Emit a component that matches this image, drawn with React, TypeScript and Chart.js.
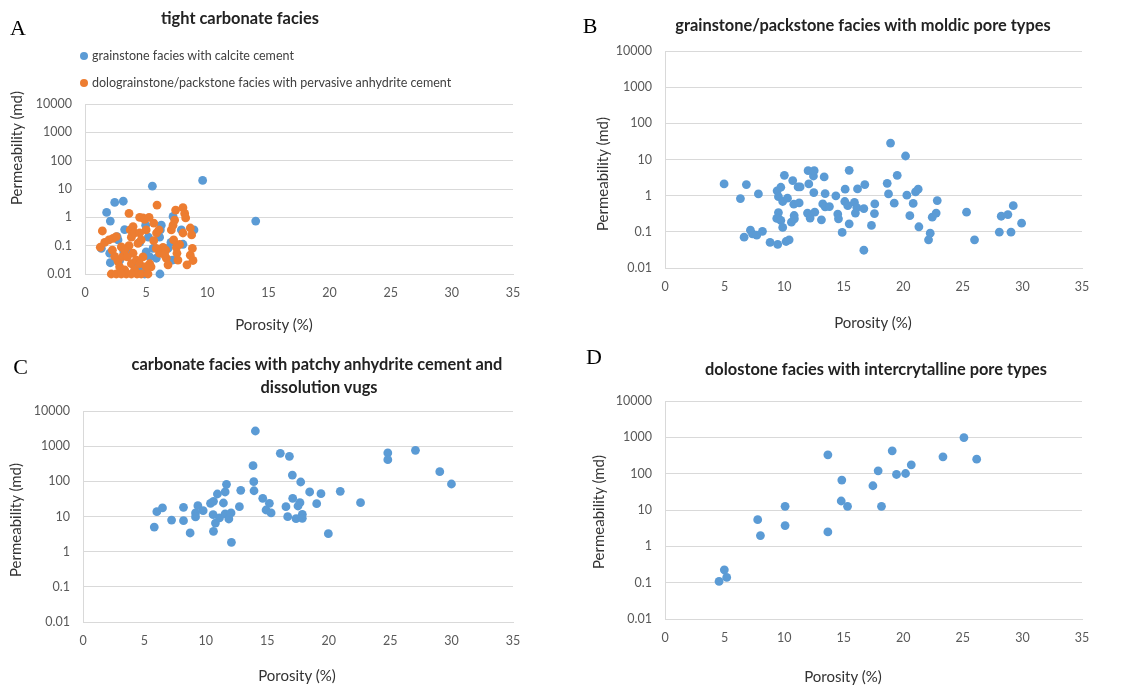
import React, { useEffect, useRef } from "react";
import { Chart, registerables } from "chart.js";

Chart.register(...registerables);

// ---------- shared axis definitions ----------
const yTickValues = [0.01, 0.1, 1, 10, 100, 1000, 10000];
const yTickLabels = ["0.01", "0.1", "1", "10", "100", "1000", "10000"];
const xMin = 0;
const xMax = 35;
const xStep = 5;

const xAxisTitle = "Porosity (%)";
const yAxisTitle = "Permeability (md)";

// ---------- panel A ----------
const aTitle = "tight carbonate facies";
const aCalciteLabel = "grainstone facies with calcite cement";
const aCalcitePorosity = [1.34, 1.77, 2.07, 2.43, 3.13, 2.07, 2.02, 2.7, 2.62, 3.24, 3.16, 3.65, 4.88, 4.96, 5.18, 5.51, 6.24, 6.16, 6.13, 5.56, 5.83, 5.29, 7.2, 7.03, 7.14, 8.01, 8.91, 9.62, 13.96, 7.88, 6.79, 4.47, 3.93, 5.0, 6.1, 2.83, 4.47];
const aCalcitePerm = [0.08, 1.49, 0.74, 3.35, 3.7, 0.025, 0.054, 0.16, 0.21, 0.37, 0.065, 0.054, 0.01, 0.53, 0.2, 12.6, 0.53, 0.36, 0.01, 0.08, 0.036, 0.04, 1.08, 0.13, 0.031, 0.112, 0.36, 20, 0.74, 0.36, 0.08, 0.018, 0.023, 0.06, 0.2, 0.03, 0.13];

const aAnhydriteLabel = "dolograinstone/packstone facies with pervasive anhydrite cement";
const aAnhydritePorosity = [1.42, 1.25, 1.61, 1.96, 2.29, 2.56, 2.24, 2.43, 2.15, 2.56, 2.83, 2.7, 3.1, 3.24, 3.38, 3.6, 3.7, 3.6, 3.79, 3.93, 4.06, 3.93, 3.79, 4.06, 4.2, 4.25, 4.47, 4.74, 4.88, 4.6, 4.74, 4.47, 4.6, 5.0, 5.29, 5.4, 5.62, 5.62, 5.24, 5.89, 6.05, 5.85, 6.1, 6.38, 6.6, 6.65, 6.79, 6.51, 7.06, 7.2, 7.33, 7.41, 7.25, 7.47, 7.52, 7.6, 7.74, 8.01, 8.01, 8.15, 8.23, 8.34, 8.61, 8.78, 8.72, 8.61, 8.83, 2.97, 3.24, 3.46, 4.47, 4.33, 5.0, 5.15, 3.79, 2.97, 5.83];
const aAnhydritePerm = [0.33, 0.088, 0.13, 0.16, 0.18, 0.21, 0.069, 0.042, 0.01, 0.01, 0.018, 0.028, 0.042, 0.014, 0.01, 1.37, 0.36, 0.1, 0.2, 0.47, 0.28, 0.054, 0.023, 0.014, 0.031, 0.01, 1.0, 0.95, 0.85, 0.16, 0.04, 0.023, 0.01, 0.36, 0.023, 0.018, 0.15, 0.62, 1.0, 2.7, 0.36, 0.28, 0.054, 0.087, 0.07, 0.036, 0.021, 0.047, 0.36, 0.53, 0.8, 1.8, 0.16, 0.087, 0.054, 0.031, 0.11, 0.28, 2.2, 1.37, 0.95, 0.021, 0.046, 0.08, 0.24, 0.42, 0.03, 0.09, 0.069, 0.04, 0.28, 0.12, 0.018, 0.01, 0.01, 0.01, 0.08];

// ---------- panel B ----------
const bTitle = "grainstone/packstone facies with moldic pore types";
const bPorosity = [4.96, 6.33, 6.64, 6.83, 7.17, 7.34, 7.7, 7.84, 8.18, 8.82, 9.46, 9.41, 9.52, 9.72, 9.52, 9.49, 9.38, 9.72, 9.88, 9.88, 10.02, 10.28, 10.16, 10.42, 10.61, 10.72, 10.81, 10.84, 10.86, 11.17, 11.34, 11.26, 11.96, 12.01, 12.07, 12.18, 12.46, 12.52, 12.49, 12.57, 13.13, 13.36, 13.24, 13.44, 13.44, 13.8, 14.34, 14.5, 14.56, 14.87, 15.12, 15.09, 15.46, 15.34, 15.46, 15.9, 15.98, 16.16, 16.1, 16.69, 16.77, 16.69, 17.33, 17.58, 17.61, 18.65, 18.76, 18.93, 19.24, 19.49, 20.19, 20.3, 20.55, 20.83, 21.03, 21.25, 21.31, 22.26, 22.12, 22.43, 22.76, 22.85, 25.31, 25.98, 28.06, 28.22, 28.78, 29.04, 29.23, 29.93];
const bPerm = [2.11, 0.83, 0.071, 2.02, 0.111, 0.088, 0.081, 1.12, 0.103, 0.051, 0.045, 1.36, 0.94, 1.71, 0.34, 0.24, 0.235, 0.206, 0.132, 0.69, 3.66, 0.85, 0.054, 0.06, 0.185, 2.61, 0.58, 0.283, 0.229, 1.75, 1.75, 0.63, 0.33, 4.92, 2.11, 0.24, 3.5, 4.92, 1.22, 0.35, 0.215, 3.29, 0.59, 1.14, 0.49, 0.5, 0.99, 0.31, 0.229, 0.096, 1.51, 0.69, 5.02, 0.53, 0.167, 0.65, 0.33, 1.54, 0.47, 0.44, 2.02, 0.031, 0.15, 0.32, 0.59, 2.2, 1.12, 28.5, 0.62, 3.66, 12.5, 1.03, 0.28, 0.61, 1.27, 1.51, 0.138, 0.092, 0.06, 0.255, 0.33, 0.73, 0.35, 0.06, 0.098, 0.27, 0.3, 0.098, 0.53, 0.174];

// ---------- panel C ----------
const cTitleLine1 = "carbonate facies with patchy anhydrite cement and";
const cTitleLine2 = "dissolution vugs";
const cPorosity = [5.8, 6.01, 6.47, 7.21, 8.18, 8.18, 8.72, 9.16, 9.16, 9.35, 9.78, 10.38, 10.62, 10.59, 10.62, 10.78, 10.94, 11.11, 11.43, 11.57, 11.68, 11.57, 11.87, 12.05, 12.08, 12.73, 12.84, 14.03, 13.84, 13.9, 13.92, 14.63, 14.9, 15.17, 15.31, 16.06, 16.52, 16.66, 16.8, 17.04, 17.07, 17.34, 17.5, 17.66, 17.72, 17.85, 17.85, 18.45, 19.02, 19.37, 19.97, 20.94, 22.59, 24.81, 24.81, 27.06, 29.04, 29.99];
const cPerm = [5.0, 13.7, 17.5, 7.9, 18.2, 7.6, 3.4, 12.6, 9.7, 20.3, 14.6, 23.7, 27, 11.3, 3.8, 6.5, 43.6, 9.1, 24.2, 49.8, 82, 11.8, 8.5, 12.6, 1.84, 19, 55.5, 2700, 279, 98, 54, 32.9, 15.3, 23.7, 12.6, 625, 19, 9.9, 514, 151, 32.9, 8.7, 19.9, 24.7, 95.7, 11.5, 8.9, 49.8, 23.2, 44.6, 3.25, 52, 24.7, 640, 413, 762, 188, 84];

// ---------- panel D ----------
const dTitle = "dolostone facies with intercrytalline pore types";
const dPorosity = [4.54, 4.98, 5.18, 7.78, 8.01, 10.08, 10.08, 13.67, 13.67, 14.84, 14.79, 15.32, 17.45, 17.89, 18.17, 19.07, 19.43, 20.19, 20.67, 23.33, 25.09, 26.16];
const dPerm = [0.108, 0.226, 0.139, 5.43, 1.98, 12.6, 3.72, 330, 2.49, 66.5, 17.7, 12.6, 46.5, 120, 12.6, 425, 95, 101, 175, 290, 986, 251];

// ---------- styling ----------
const BLUE = "#5B9BD5";
const ORANGE = "#ED7D31";
const GRID = "#d9d9d9";
const TICK = "#595959";
const FONT = "Lato, 'Open Sans', sans-serif";

type Series = { label: string; xs: number[]; ys: number[]; color: string; order: number };
type Spec = {
  left: number; top: number; width: number; height: number;
  padTop: number; padRight: number; yWidth: number; xHeight: number;
  series: Series[];
};

function ScatterPanel({ spec }: { spec: Spec }) {
  const ref = useRef<HTMLCanvasElement>(null);
  useEffect(() => {
    if (!ref.current) return;
    const chart = new Chart(ref.current, {
      type: "scatter",
      data: {
        datasets: spec.series.map((s) => ({
          label: s.label,
          data: s.xs.map((x, i) => ({ x, y: s.ys[i] })),
          backgroundColor: s.color,
          borderColor: s.color,
          borderWidth: 0,
          pointRadius: 4.4,
          pointHoverRadius: 4.4,
          clip: false as any,
          order: s.order,
        })),
      },
      options: {
        responsive: false,
        animation: false,
        devicePixelRatio: 1,
        events: [],
        layout: { padding: { left: 0, top: spec.padTop, right: spec.padRight, bottom: 0 } },
        plugins: { legend: { display: false }, tooltip: { enabled: false }, title: { display: false } },
        scales: {
          x: {
            type: "linear",
            min: xMin,
            max: xMax,
            ticks: { stepSize: xStep, padding: 11, color: TICK, font: { family: FONT, size: 12.5 } },
            grid: { display: false, drawTicks: false },
            border: { display: true, color: GRID, width: 1 },
            afterFit: (s: any) => { s.height = spec.xHeight; },
          },
          y: {
            type: "logarithmic",
            min: yTickValues[0],
            max: yTickValues[yTickValues.length - 1],
            afterBuildTicks: (s: any) => { s.ticks = yTickValues.map((v) => ({ value: v })); },
            ticks: {
              padding: 13,
              color: TICK,
              font: { family: FONT, size: 12.5 },
              callback: (_v: any, i: number) => yTickLabels[i],
            },
            grid: { color: GRID, lineWidth: 1, drawTicks: false },
            border: { display: true, color: GRID, width: 1 },
            afterFit: (s: any) => { s.width = spec.yWidth; },
          },
        },
      } as any,
    });
    return () => chart.destroy();
  }, []);
  return (
    <canvas
      ref={ref}
      width={spec.width}
      height={spec.height}
      style={{ position: "absolute", left: spec.left, top: spec.top, width: spec.width, height: spec.height }}
    />
  );
}

const textBase: React.CSSProperties = {
  position: "absolute",
  whiteSpace: "nowrap",
  lineHeight: 1,
  transform: "translate(-50%, -50%)",
  fontFamily: FONT,
};

function Label({ x, y, text, size, bold, color, rotate, serif }: { x: number; y: number; text: string; size: number; bold?: boolean; color?: string; rotate?: boolean; serif?: boolean }) {
  return (
    <div
      style={{
        ...textBase,
        left: x,
        top: y,
        fontSize: size,
        fontWeight: bold ? 700 : 400,
        color: color || "#333",
        fontFamily: serif ? "'Liberation Serif', 'DejaVu Serif', serif" : FONT,
        transform: rotate ? "translate(-50%, -50%) rotate(-90deg)" : "translate(-50%, -50%)",
      }}
    >
      {text}
    </div>
  );
}

const specA: Spec = {
  left: 0, top: 0, width: 560, height: 340, padTop: 104, padRight: 47, yWidth: 85, xHeight: 66,
  series: [
    { label: aCalciteLabel, xs: aCalcitePorosity, ys: aCalcitePerm, color: BLUE, order: 2 },
    { label: aAnhydriteLabel, xs: aAnhydritePorosity, ys: aAnhydritePerm, color: ORANGE, order: 1 },
  ],
};
const specB: Spec = {
  left: 570, top: 0, width: 575, height: 340, padTop: 51, padRight: 63, yWidth: 95, xHeight: 72,
  series: [{ label: bTitle, xs: bPorosity, ys: bPerm, color: BLUE, order: 1 }],
};
const specC: Spec = {
  left: 0, top: 340, width: 560, height: 346, padTop: 71, padRight: 47, yWidth: 83, xHeight: 64,
  series: [{ label: cTitleLine1 + " " + cTitleLine2, xs: cPorosity, ys: cPerm, color: BLUE, order: 1 }],
};
const specD: Spec = {
  left: 570, top: 340, width: 575, height: 346, padTop: 61, padRight: 63, yWidth: 95, xHeight: 67,
  series: [{ label: dTitle, xs: dPorosity, ys: dPerm, color: BLUE, order: 1 }],
};

function LegendA() {
  const items = specA.series;
  return (
    <>
      {items.map((s, i) => (
        <div key={i} style={{ position: "absolute", left: 80, top: 56 + i * 27 - 8, height: 16, display: "flex", alignItems: "center", whiteSpace: "nowrap" }}>
          <span style={{ display: "inline-block", width: 8, height: 8, borderRadius: 4, background: s.color, marginRight: 4 }} />
          <span style={{ fontFamily: FONT, fontSize: 12.5, color: "#404040", lineHeight: 1 }}>{s.label}</span>
        </div>
      ))}
    </>
  );
}

export default function App() {
  return (
    <div style={{ position: "absolute", left: 0, top: 0, width: 1145, height: 686, background: "#fff", overflow: "hidden" }}>
      <ScatterPanel spec={specA} />
      <ScatterPanel spec={specB} />
      <ScatterPanel spec={specC} />
      <ScatterPanel spec={specD} />

      <Label x={18} y={27.5} text="A" size={22} serif color="#000" />
      <Label x={590} y={25.5} text="B" size={22} serif color="#000" />
      <Label x={20.5} y={366.5} text="C" size={22} serif color="#000" />
      <Label x={594} y={357} text="D" size={22} serif color="#000" />

      <Label x={240} y={18} text={aTitle} size={16.4} bold color="#222" />
      <Label x={863} y={24.5} text={bTitle} size={16.4} bold color="#222" />
      <Label x={317} y={364} text={cTitleLine1} size={16.4} bold color="#222" />
      <Label x={319} y={386.5} text={cTitleLine2} size={16.4} bold color="#222" />
      <Label x={876} y={369} text={dTitle} size={16.4} bold color="#222" />

      <LegendA />

      <Label x={16} y={148} text={yAxisTitle} size={15} rotate />
      <Label x={602} y={174} text={yAxisTitle} size={15} rotate />
      <Label x={15} y={520} text={yAxisTitle} size={15} rotate />
      <Label x={598} y={511.5} text={yAxisTitle} size={15} rotate />

      <Label x={274} y={324} text={xAxisTitle} size={15} />
      <Label x={873} y={321.5} text={xAxisTitle} size={15} />
      <Label x={297} y={675} text={xAxisTitle} size={15} />
      <Label x={843} y={676} text={xAxisTitle} size={15} />
    </div>
  );
}
